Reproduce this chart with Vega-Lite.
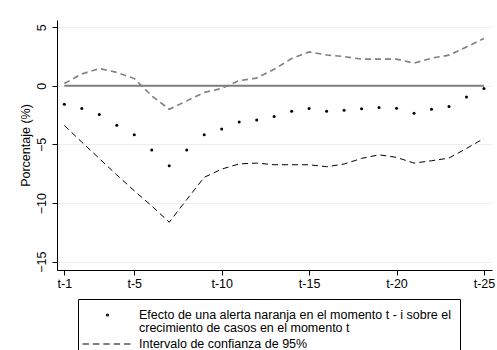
{
  "$schema": "https://vega.github.io/schema/vega-lite/v6.json",
  "width": 435,
  "height": 250,
  "autosize": {"type": "none"},
  "padding": {"left": 57, "top": 20, "right": 5, "bottom": 80},
  "background": "white",
  "config": {
    "font": "Liberation Sans",
    "view": {"stroke": null},
    "style": {"guide-label": {"lineHeight": 12.5}},
    "axis": {
      "domainColor": "black",
      "tickColor": "black",
      "labelColor": "black",
      "titleColor": "black",
      "labelFont": "Liberation Sans",
      "titleFont": "Liberation Sans",
      "labelFontSize": 12.5,
      "titleFontSize": 12.5,
      "titleFontWeight": "normal",
      "tickSize": 5,
      "domainWidth": 1,
      "tickWidth": 1
    }
  },
  "datasets": {
    "main": [
      {"i": 1, "est": -1.56, "lo": -3.38, "hi": 0.2},
      {"i": 2, "est": -1.93, "lo": -4.8, "hi": 1.02},
      {"i": 3, "est": -2.44, "lo": -6.2, "hi": 1.48},
      {"i": 4, "est": -3.35, "lo": -7.6, "hi": 1.15},
      {"i": 5, "est": -4.17, "lo": -8.95, "hi": 0.62},
      {"i": 6, "est": -5.48, "lo": -10.25, "hi": -0.85},
      {"i": 7, "est": -6.82, "lo": -11.63, "hi": -1.99},
      {"i": 8, "est": -5.48, "lo": -9.7, "hi": -1.28},
      {"i": 9, "est": -4.17, "lo": -7.8, "hi": -0.56},
      {"i": 10, "est": -3.69, "lo": -7.1, "hi": -0.22},
      {"i": 11, "est": -3.09, "lo": -6.66, "hi": 0.45},
      {"i": 12, "est": -2.92, "lo": -6.59, "hi": 0.66},
      {"i": 13, "est": -2.61, "lo": -6.73, "hi": 1.42},
      {"i": 14, "est": -2.16, "lo": -6.73, "hi": 2.33},
      {"i": 15, "est": -1.93, "lo": -6.73, "hi": 2.9},
      {"i": 16, "est": -2.16, "lo": -6.9, "hi": 2.64},
      {"i": 17, "est": -2.07, "lo": -6.67, "hi": 2.5},
      {"i": 18, "est": -1.96, "lo": -6.19, "hi": 2.28},
      {"i": 19, "est": -1.84, "lo": -5.88, "hi": 2.28},
      {"i": 20, "est": -1.9, "lo": -6.1, "hi": 2.28},
      {"i": 21, "est": -2.33, "lo": -6.59, "hi": 1.94},
      {"i": 22, "est": -1.99, "lo": -6.39, "hi": 2.36},
      {"i": 23, "est": -1.76, "lo": -6.16, "hi": 2.62},
      {"i": 24, "est": -0.96, "lo": -5.34, "hi": 3.32},
      {"i": 25, "est": -0.22, "lo": -4.48, "hi": 4.04}
    ],
    "ref": [
      {"desde": 1, "hasta": 25, "nivel": 0}
    ],
    "leyenda": [
      {"serie": "Efecto de una alerta naranja en el momento t - i sobre el crecimiento de casos en el momento t", "i": 1, "v": 0},
      {"serie": "Intervalo de confianza de 95%", "i": 1, "v": 0}
    ]
  },
  "layer": [
    {
      "data": {"name": "ref"},
      "mark": {"type": "rule", "color": "#7f7f7f", "strokeWidth": 2},
      "encoding": {
        "x": {
          "field": "desde",
          "type": "quantitative",
          "scale": {"domain": [0.58, 25.46], "nice": false, "zero": false},
          "axis": {
            "values": [1, 5, 10, 15, 20, 25],
            "labelExpr": "'t-' + datum.value",
            "title": null,
            "grid": false,
            "labelPadding": 2,
            "labelFlush": false
          }
        },
        "x2": {"field": "hasta"},
        "y": {
          "field": "nivel",
          "type": "quantitative",
          "scale": {"domain": [-15.71, 5.62], "nice": false, "zero": false},
          "axis": {
            "values": [-15, -10, -5, 0, 5],
            "title": "Porcentaje (%)",
            "grid": true,
            "gridColor": "#e6eef0",
            "gridWidth": 1,
            "labelAngle": 270,
            "labelAlign": "center",
            "labelBaseline": "alphabetic",
            "labelPadding": 7,
            "titlePadding": 3,
            "labelFlush": false
          }
        }
      }
    },
    {
      "data": {"name": "main"},
      "mark": {"type": "line", "color": "#808080", "strokeWidth": 1.6, "strokeDash": [6, 4]},
      "encoding": {
        "x": {"field": "i", "type": "quantitative"},
        "y": {"field": "hi", "type": "quantitative"}
      }
    },
    {
      "data": {"name": "main"},
      "mark": {"type": "line", "color": "black", "strokeWidth": 1, "strokeDash": [6, 4]},
      "encoding": {
        "x": {"field": "i", "type": "quantitative"},
        "y": {"field": "lo", "type": "quantitative"}
      }
    },
    {
      "data": {"name": "main"},
      "mark": {"type": "point", "filled": true, "color": "black", "size": 9, "opacity": 1},
      "encoding": {
        "x": {"field": "i", "type": "quantitative"},
        "y": {"field": "est", "type": "quantitative"}
      }
    },
    {
      "data": {"name": "leyenda"},
      "mark": {"type": "point", "filled": false, "color": "black", "strokeWidth": 1.4, "opacity": 0},
      "encoding": {
        "x": {"field": "i", "type": "quantitative"},
        "y": {"field": "v", "type": "quantitative"},
        "shape": {
          "field": "serie",
          "type": "nominal",
          "scale": {
            "domain": [
              "Efecto de una alerta naranja en el momento t - i sobre el crecimiento de casos en el momento t",
              "Intervalo de confianza de 95%"
            ],
            "range": [
              "M2.08,0A0.17,0.17,0,1,0,2.42,0A0.17,0.17,0,1,0,2.08,0Z",
              "M-1.917,0H-0.85M-0.183,0H0.883M1.55,0H2.617M3.283,0H4.35M5.017,0H6.083"
            ]
          },
          "legend": {
            "title": null,
            "orient": "none",
            "legendX": 21,
            "legendY": 279,
            "direction": "vertical",
            "padding": 9,
            "strokeColor": "black",
            "symbolSize": 144,
            "symbolOpacity": 1,
            "symbolFillColor": "black",
            "symbolStrokeColor": "black",
            "symbolStrokeWidth": 1.2,
            "labelOffset": 38,
            "labelFontSize": 12.5,
            "labelFont": "Liberation Sans",
            "labelColor": "black",
            "labelLimit": 0,
            "rowPadding": 3,
            "labelExpr": "indexof(datum.label, 'Efecto') == 0 ? ['Efecto de una alerta naranja en el momento t - i sobre el', 'crecimiento de casos en el momento t'] : datum.label",
            "encode": {
              "symbols": {
                "stroke": {"value": "black"},
                "strokeWidth": {"value": 1.2},
                "opacity": {"value": 1}
              }
            }
          }
        }
      }
    }
  ]
}
